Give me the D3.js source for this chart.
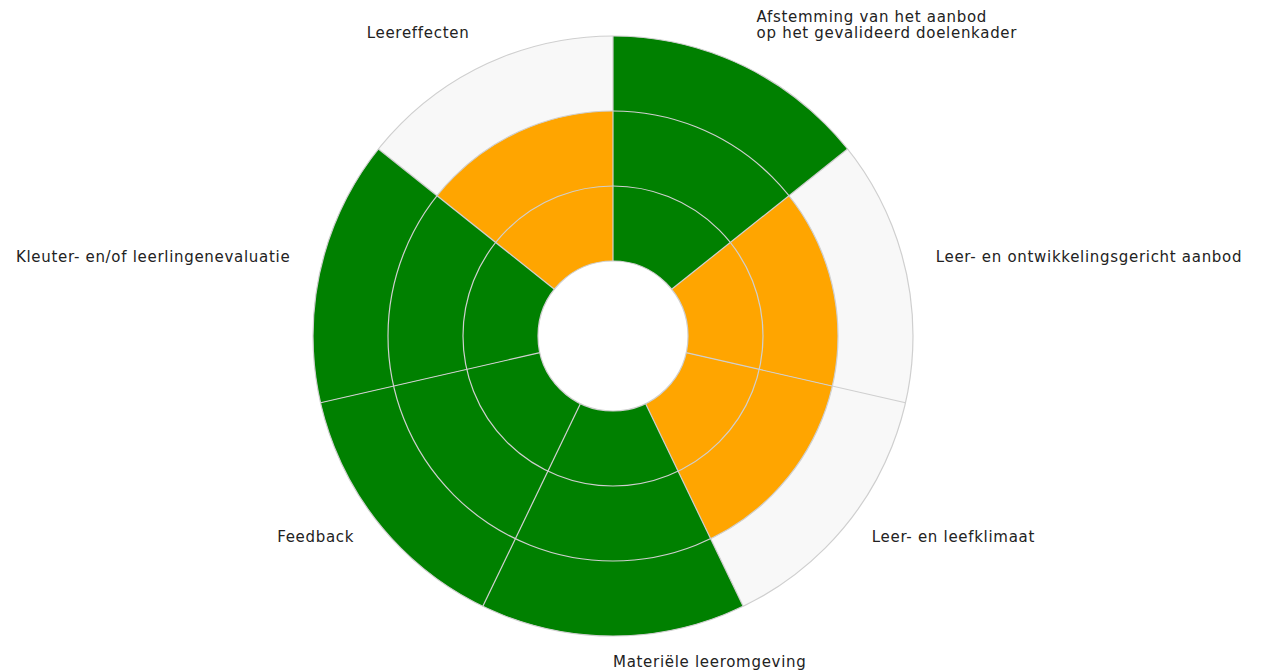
<!DOCTYPE html>
<html>
<head>
<meta charset="utf-8">
<script src="https://cdn.jsdelivr.net/npm/d3@7"></script>
<style>
  body { margin: 0; background: #fff; }
  text { font-family: "DejaVu Sans", sans-serif; font-size: 15px; letter-spacing: 0.7px; fill: #222; }
</style>
</head>
<body>
<div id="chart"></div>
<script>
// categories clockwise from 12 o'clock
const categories = [
    ["Afstemming van het aanbod", "op het gevalideerd doelenkader"],
    ["Leer- en ontwikkelingsgericht aanbod"],
    ["Leer- en leefklimaat"],
    ["Materiële leeromgeving"],
    ["Feedback"],
    ["Kleuter- en/of leerlingenevaluatie"],
    ["Leereffecten"]
];
const scores = [3, 2, 2, 3, 3, 3, 2];
const gridLevels = [1, 2, 3];
const scoreColors = {2: "orange", 3: "green"};

const width = 1265, height = 672;
const cx = 613, cy = 336;

const svg = d3.select("#chart").append("svg")
    .attr("width", width)
    .attr("height", height);

const g = svg.append("g").attr("transform", `translate(${cx},${cy})`);

const angle = d3.scaleBand()
    .domain(d3.range(categories.length))
    .range([0, 2 * Math.PI])
    .paddingInner(0).paddingOuter(0);

const r = d3.scaleLinear().domain([0, 3]).range([75, 300]);

// background disc
g.append("path")
    .attr("d", d3.arc()({innerRadius: r(0), outerRadius: r(3), startAngle: 0, endAngle: 2 * Math.PI}))
    .attr("fill", "#f8f8f8");

const arc = d3.arc()
    .innerRadius(r(0))
    .outerRadius(d => r(d.v))
    .startAngle(d => angle(d.i))
    .endAngle(d => angle(d.i) + angle.bandwidth());

g.selectAll(".bar")
    .data(scores.map((v, i) => ({v, i})))
    .join("path")
    .attr("class", "bar")
    .attr("d", arc)
    .attr("fill", d => scoreColors[d.v]);

// grid circles
g.selectAll(".ring")
    .data(gridLevels)
    .join("circle")
    .attr("r", d => r(d))
    .attr("fill", "none")
    .attr("stroke", "#cfcfcf")
    .attr("stroke-width", 1.2);

// spokes at sector boundaries
g.selectAll(".spoke")
    .data(d3.range(categories.length))
    .join("line")
    .attr("x1", d => r(0) * Math.sin(angle(d)))
    .attr("y1", d => -r(0) * Math.cos(angle(d)))
    .attr("x2", d => r(3) * Math.sin(angle(d)))
    .attr("y2", d => -r(3) * Math.cos(angle(d)))
    .attr("stroke", "#cfcfcf")
    .attr("stroke-width", 1.2);

// hole
g.append("circle")
    .attr("r", r(0))
    .attr("fill", "#fff")
    .attr("stroke", "#cfcfcf")
    .attr("stroke-width", 1.2);

// labels
const labelR = 331;
const lineH = 16;
categories.forEach((lines, i) => {
    const a = angle(i) + angle.bandwidth() / 2;
    const s = Math.sin(a);
    const x = labelR * s;
    const y = -labelR * Math.cos(a);
    const t = g.append("text")
        .attr("x", x)
        .attr("y", y - (lines.length - 1) * lineH)
        .attr("text-anchor", s > -1e-6 ? "start" : "end");
    lines.forEach((ln, k) => {
        t.append("tspan")
            .attr("x", x)
            .attr("dy", k === 0 ? 0 : lineH)
            .text(ln);
    });
});
</script>
</body>
</html>
